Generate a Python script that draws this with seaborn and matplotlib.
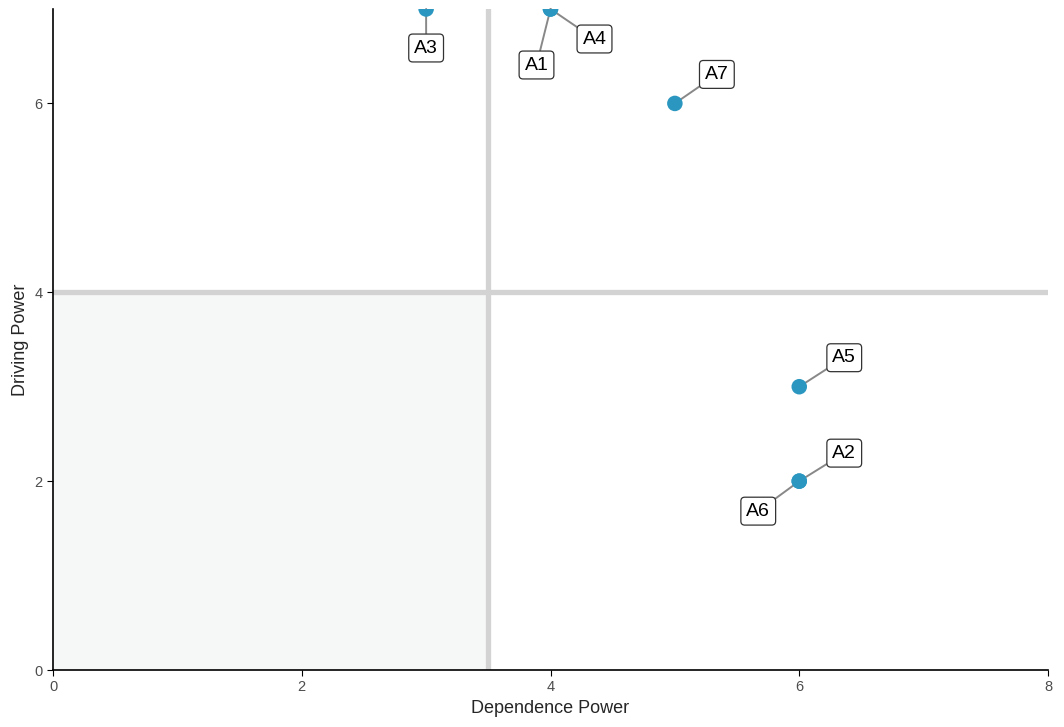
import numpy as np
import matplotlib
matplotlib.use("Agg")
import matplotlib.pyplot as plt
import seaborn as sns
import pandas as pd

# data
labels = ["A1", "A2", "A3", "A4", "A5", "A6", "A7"]
dependence = [4, 6, 3, 4, 6, 6, 5]
driving = [7, 2, 7, 7, 3, 2, 6]
# label offsets in pixels (right, down) as placed by the repel layout
offsets = {
    "A1": (-14, 56), "A2": (45, -28), "A3": (0, 39), "A4": (44, 30),
    "A5": (45, -29), "A6": (-41, 30), "A7": (42, -29),
}
x_cut = 3.5
y_cut = 4

df = pd.DataFrame({"label": labels, "dep": dependence, "drv": driving})

sns.set_style("white")
plt.rcParams["font.family"] = ["Liberation Sans", "DejaVu Sans"]

fig = plt.figure(figsize=(10.64, 7.27), dpi=100)
ax = fig.add_axes([53 / 1064, 57 / 727, 995 / 1064, 661 / 727])

ax.fill_between([0, x_cut], 0, y_cut, color="#f6f7f7", lw=0, zorder=0)
ax.axvline(x_cut, color="#d3d3d3", lw=3.8, zorder=1)
ax.axhline(y_cut, color="#d3d3d3", lw=3.8, zorder=1)

sns.scatterplot(data=df, x="dep", y="drv", ax=ax, color="#2b97c0",
                s=125, edgecolor="none", zorder=3)

for lab, x, y in zip(labels, dependence, driving):
    dx, dy = offsets[lab]
    ax.annotate(lab, (x, y), xytext=(dx * 0.72, -dy * 0.72),
                textcoords="offset points", ha="center", va="center",
                fontsize=14, color="black", annotation_clip=False, zorder=2,
                bbox=dict(boxstyle="round,pad=0.28,rounding_size=0.2",
                          fc="white", ec="#333333", lw=0.9),
                arrowprops=dict(arrowstyle="-", color="#888888", lw=1.4,
                                shrinkA=0, shrinkB=0))

ax.set_xlim(0, 8)
ax.set_ylim(0, 7)
ax.set_xticks([0, 2, 4, 6, 8])
ax.set_yticks([0, 2, 4, 6])
ax.set_xlabel("Dependence Power", fontsize=13)
ax.set_ylabel("Driving Power", fontsize=13)
ax.tick_params(axis="both", colors="#4d4d4d", labelsize=10.5, length=4,
               width=0.8, left=True, bottom=True)
ax.tick_params(axis="both", color="black")
sns.despine(ax=ax)
for sp in ["left", "bottom"]:
    ax.spines[sp].set_color("black")
    ax.spines[sp].set_linewidth(1.2)

fig.savefig("out.png", dpi=100)
